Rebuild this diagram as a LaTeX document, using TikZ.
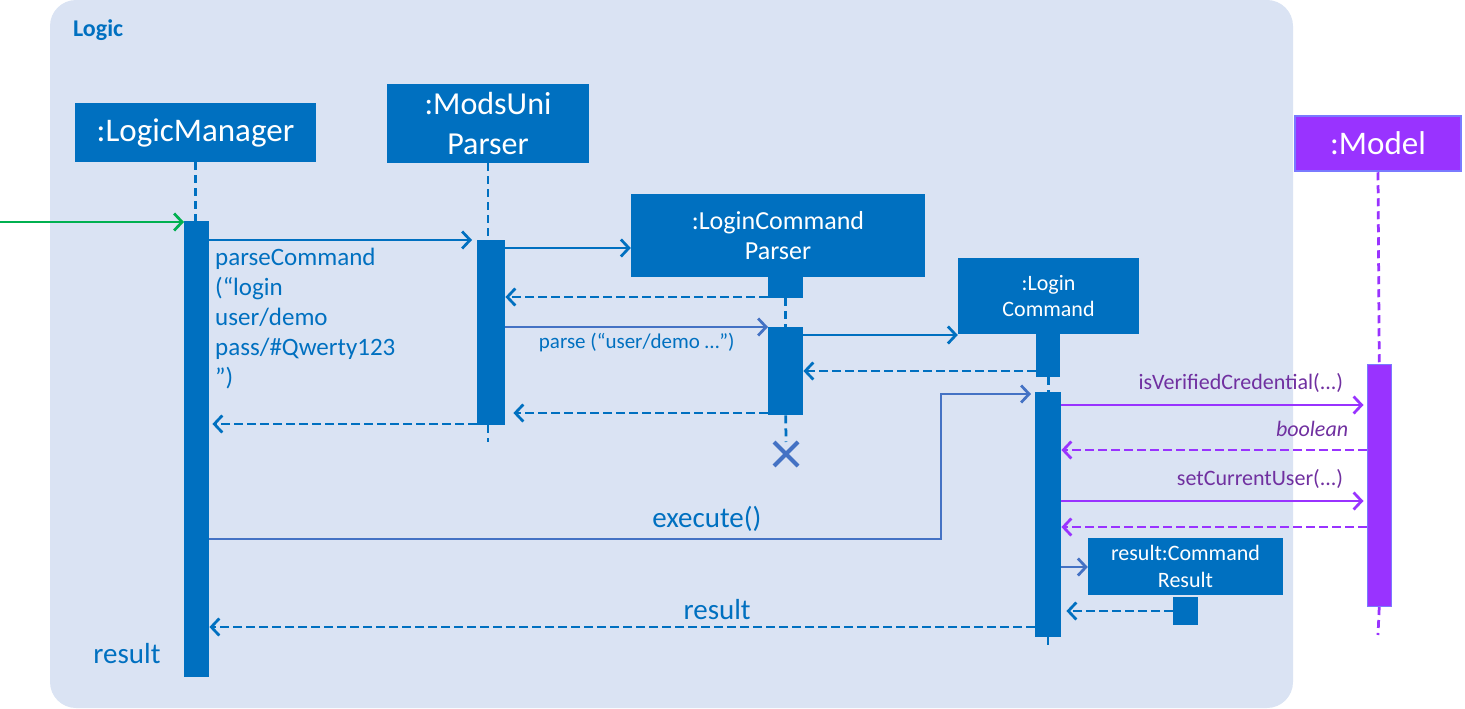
\documentclass[tikz,border=0pt]{standalone}
\usepackage{fontspec}
\setmainfont{Carlito}
\usetikzlibrary{arrows.meta,positioning,calc,shapes.misc}
\definecolor{logicblue}{RGB}{0,112,192}
\definecolor{msgblue}{RGB}{68,114,196}
\definecolor{panelblue}{RGB}{218,227,243}
\definecolor{modelpurple}{RGB}{153,51,255}
\definecolor{modeledge}{RGB}{122,122,255}
\definecolor{labelpurple}{RGB}{112,48,160}
\definecolor{entrygreen}{RGB}{0,176,80}

\newcommand{\fs}[2]{\fontsize{#1}{#2}\selectfont}

\begin{document}
\begin{tikzpicture}[x=1pt, y=-1pt,
  obj/.style={fill=logicblue, text=white, inner sep=0pt, align=center},
  act/.style={fill=logicblue, inner sep=0pt, anchor=north west},
  life/.style={draw=logicblue, line width=2.75pt, dash pattern=on 8pt off 5pt},
  call/.style={draw=logicblue, line width=2.75pt,
    -{Straight Barb[length=8pt, width=17pt, line width=2.75pt]}},
  ret/.style={call, dash pattern=on 9pt off 4pt},
  lab/.style={text=logicblue, inner sep=0pt},
  plab/.style={text=labelpurple, inner sep=0pt, font=\fs{22}{26}}
]
\useasboundingbox (0,0) rectangle (1465,709);
\fill[panelblue, rounded corners=26pt] (50,0) rectangle (1293,708);
\node[lab, anchor=west, font=\bfseries\fs{24}{28}] (title) at (73,30) {Logic};

% participants
\node[obj, minimum width=241pt, minimum height=59pt, font=\fs{33}{38}] (lm) at (195.5,132.5) {:LogicManager};
\node[obj, minimum width=202pt, minimum height=79pt, font=\fs{32}{40}] (mup) at (488,123.5) {:ModsUni\\Parser};
\node[obj, minimum width=294pt, minimum height=83pt, font=\fs{26}{30}] (lcp) at (778,235.5) {:LoginCommand\\Parser};
\node[obj, minimum width=181pt, minimum height=76pt, font=\fs{22}{26}] (lc) at (1048.5,296) {:Login\\Command};
\node[obj, fill=modelpurple, draw=modeledge, line width=2.5pt, minimum width=166pt, minimum height=55pt,
  font=\fs{33}{38}] (mdl) at (1378,143.5) {:Model};
\node[obj, minimum width=195pt, minimum height=57pt, font=\fs{22}{27}] (res) at (1185.5,566.5) {result:Command\\Result};

% activations
\node[act, minimum width=25pt, minimum height=456pt] (aLM) at (184,221) {};
\node[act, minimum width=28pt, minimum height=185pt] (aMU) at (477,240) {};
\node[act, minimum width=35pt, minimum height=21pt] (aLCP0) at (768,277) {};
\node[act, minimum width=35pt, minimum height=88pt] (aLCP) at (768,327) {};
\node[act, minimum width=24pt, minimum height=43pt] (aLC0) at (1036,334) {};
\node[act, minimum width=26pt, minimum height=245pt] (aLC) at (1035,392) {};
\node[act, fill=modelpurple, draw=modeledge, line width=1.5pt, minimum width=24pt, minimum height=242pt] (aMdl) at (1366.5,363.5) {};
\node[act, minimum width=25pt, minimum height=28pt] (aRes) at (1173,597) {};
\node[draw=msgblue, cross out, line width=4pt, minimum size=20pt, inner sep=0pt] (xLCP) at (786,454) {};

% lifelines
\coordinate (endMU) at (488,442);
\coordinate (endLC) at (1048,650);
\coordinate (endMdl) at (1378,635);
\draw[life] (lm.south) -- (aLM.north -| lm.south);
\draw[life] (mup.south) -- (aMU.north -| mup.south);
\draw[life] (aMU.south -| endMU) -- (endMU);
\draw[life] (aLCP0.south) -- (aLCP.north -| aLCP0.south);
\draw[life] (aLCP.south) -- (xLCP.north);
\draw[life] (aLC0.south) -- (aLC.north -| aLC0.south);
\draw[life] (aLC.south -| endLC) -- (endLC);
\draw[life, draw=modelpurple] (mdl.south) -- (aMdl.north);
\draw[life, draw=modelpurple] (aMdl.south) -- (endMdl);

% message rows
\foreach \r in {222,240,248,297,327,335,371,394,405,413,424,450,501,527,539,567,611,627}
  \coordinate (r\r) at (0,\r);
\coordinate (entry) at (0,222);
\coordinate (elbow) at (941,394);

% messages
\draw[call, draw=entrygreen] (entry) -- (aLM.west |- r222);
\draw[call, shorten >=5pt] (aLM.east |- r240) -- (aMU.west |- r240);
\node[lab, anchor=north west, align=left, font=\fs{25}{30}] (pcLab) at (215,248)
  {parseCommand\\(“login\\user/demo\\pass/\#Qwerty123\\”)};
\draw[call] (aMU.east |- r248) -- (lcp.west |- r248);
\draw[ret] (aLCP0.west |- r297) -- (aMU.east |- r297);
\draw[call, draw=msgblue] (aMU.east |- r327) -- node[lab, below=5pt, font=\fs{21}{24}] {parse (“user/demo …”)} (aLCP.west |- r327);
\draw[call] (aLCP.east |- r335) -- (lc.west |- r335);
\draw[ret] (aLC0.west |- r371) -- (aLCP.east |- r371);
\draw[ret, shorten >=8pt] (aLCP.west |- r413) -- (aMU.east |- r413);
\draw[ret, shorten >=3pt] (aMU.west |- r424) -- (aLM.east |- r424);
\draw[call, draw=msgblue, shorten >=4pt] (aLM.east |- r539) -| node[lab, pos=0.34, above=6pt, font=\fs{29}{32}] {execute()} (elbow) -- (aLC.west |- r394);
\draw[call, draw=modelpurple, shorten >=3pt] (aLC.east |- r405) -- node[plab, pos=1, anchor=south east, xshift=-22pt, yshift=11pt] {isVerifiedCredential(...)} (aMdl.west |- r405);
\draw[ret, draw=modelpurple] (aMdl.west |- r450) -- node[plab, pos=0, anchor=south east, xshift=-17pt, yshift=12pt, font=\itshape\fs{22}{26}] {boolean} (aLC.east |- r450);
\draw[call, draw=modelpurple, shorten >=3pt] (aLC.east |- r501) -- node[plab, pos=1, anchor=south east, xshift=-22pt, yshift=11pt] {setCurrentUser(...)} (aMdl.west |- r501);
\draw[ret, draw=modelpurple] (aMdl.west |- r527) -- (aLC.east |- r527);
\draw[call, draw=msgblue] (aLC.east |- r567) -- (res.west |- r567);
\draw[ret, shorten >=5pt] (aRes.west |- r611) -- (aLC.east |- r611);
\draw[ret] (aLC.west |- r627) -- node[lab, pos=0.385, above=6pt, font=\fs{29}{32}] {result} (aLM.east |- r627);
\node[lab, font=\fs{29}{32}] (resLab) at (127,654) {result};
\end{tikzpicture}
\end{document}
